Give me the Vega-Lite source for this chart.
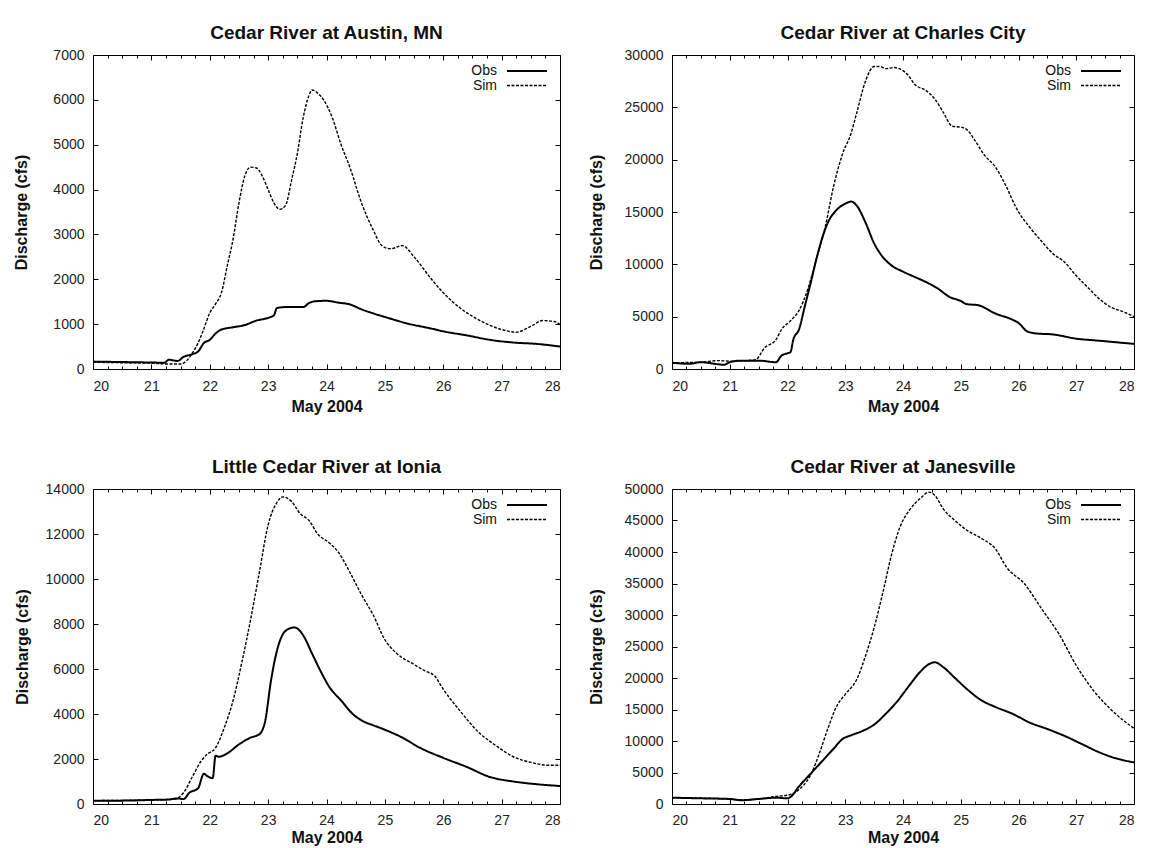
{
  "$schema": "https://vega.github.io/schema/vega-lite/v6.json",
  "padding": {"left": 13, "top": 23, "right": 0, "bottom": 0},
  "background": "white",
  "datasets": {
    "austin": [
      {"d":20.0,"s":"Obs","q":165},{"d":20.5,"s":"Obs","q":155},{"d":21.0,"s":"Obs","q":145},{"d":21.22,"s":"Obs","q":140},{"d":21.3,"s":"Obs","q":205},{"d":21.45,"s":"Obs","q":180},{"d":21.55,"s":"Obs","q":270},{"d":21.7,"s":"Obs","q":330},{"d":21.8,"s":"Obs","q":390},{"d":21.9,"s":"Obs","q":580},{"d":22.0,"s":"Obs","q":650},{"d":22.1,"s":"Obs","q":790},{"d":22.2,"s":"Obs","q":880},{"d":22.4,"s":"Obs","q":930},{"d":22.6,"s":"Obs","q":980},{"d":22.8,"s":"Obs","q":1080},{"d":23.0,"s":"Obs","q":1140},{"d":23.1,"s":"Obs","q":1200},{"d":23.15,"s":"Obs","q":1360},{"d":23.3,"s":"Obs","q":1380},{"d":23.6,"s":"Obs","q":1380},{"d":23.7,"s":"Obs","q":1470},{"d":23.8,"s":"Obs","q":1510},{"d":24.0,"s":"Obs","q":1520},{"d":24.2,"s":"Obs","q":1480},{"d":24.4,"s":"Obs","q":1440},{"d":24.6,"s":"Obs","q":1330},{"d":24.8,"s":"Obs","q":1240},{"d":25.0,"s":"Obs","q":1160},{"d":25.4,"s":"Obs","q":1010},{"d":25.8,"s":"Obs","q":900},{"d":26.0,"s":"Obs","q":840},{"d":26.4,"s":"Obs","q":750},{"d":26.8,"s":"Obs","q":650},{"d":27.2,"s":"Obs","q":590},{"d":27.6,"s":"Obs","q":560},{"d":28.0,"s":"Obs","q":500},
      {"d":20.0,"s":"Sim","q":150},{"d":20.5,"s":"Sim","q":140},{"d":21.0,"s":"Sim","q":130},{"d":21.3,"s":"Sim","q":110},{"d":21.5,"s":"Sim","q":110},{"d":21.6,"s":"Sim","q":180},{"d":21.7,"s":"Sim","q":350},{"d":21.8,"s":"Sim","q":580},{"d":21.9,"s":"Sim","q":900},{"d":22.0,"s":"Sim","q":1250},{"d":22.1,"s":"Sim","q":1450},{"d":22.2,"s":"Sim","q":1700},{"d":22.3,"s":"Sim","q":2300},{"d":22.4,"s":"Sim","q":2900},{"d":22.5,"s":"Sim","q":3700},{"d":22.6,"s":"Sim","q":4300},{"d":22.7,"s":"Sim","q":4500},{"d":22.8,"s":"Sim","q":4480},{"d":22.9,"s":"Sim","q":4300},{"d":23.0,"s":"Sim","q":4000},{"d":23.1,"s":"Sim","q":3700},{"d":23.2,"s":"Sim","q":3560},{"d":23.3,"s":"Sim","q":3650},{"d":23.4,"s":"Sim","q":4200},{"d":23.5,"s":"Sim","q":4800},{"d":23.6,"s":"Sim","q":5600},{"d":23.7,"s":"Sim","q":6100},{"d":23.75,"s":"Sim","q":6220},{"d":23.85,"s":"Sim","q":6150},{"d":23.95,"s":"Sim","q":6000},{"d":24.1,"s":"Sim","q":5600},{"d":24.25,"s":"Sim","q":5000},{"d":24.4,"s":"Sim","q":4500},{"d":24.6,"s":"Sim","q":3700},{"d":24.8,"s":"Sim","q":3100},{"d":24.95,"s":"Sim","q":2750},{"d":25.1,"s":"Sim","q":2680},{"d":25.3,"s":"Sim","q":2750},{"d":25.5,"s":"Sim","q":2500},{"d":25.8,"s":"Sim","q":2000},{"d":26.0,"s":"Sim","q":1700},{"d":26.3,"s":"Sim","q":1350},{"d":26.6,"s":"Sim","q":1100},{"d":27.0,"s":"Sim","q":880},{"d":27.25,"s":"Sim","q":820},{"d":27.5,"s":"Sim","q":950},{"d":27.7,"s":"Sim","q":1080},{"d":27.9,"s":"Sim","q":1060},{"d":28.0,"s":"Sim","q":990}
    ],
    "charles": [
      {"d":20.0,"s":"Obs","q":600},{"d":20.3,"s":"Obs","q":500},{"d":20.5,"s":"Obs","q":650},{"d":20.8,"s":"Obs","q":450},{"d":20.9,"s":"Obs","q":400},{"d":21.0,"s":"Obs","q":650},{"d":21.2,"s":"Obs","q":800},{"d":21.5,"s":"Obs","q":800},{"d":21.8,"s":"Obs","q":650},{"d":21.9,"s":"Obs","q":1300},{"d":22.0,"s":"Obs","q":1500},{"d":22.05,"s":"Obs","q":1600},{"d":22.1,"s":"Obs","q":2800},{"d":22.2,"s":"Obs","q":3800},{"d":22.3,"s":"Obs","q":6000},{"d":22.4,"s":"Obs","q":8200},{"d":22.5,"s":"Obs","q":10500},{"d":22.6,"s":"Obs","q":12500},{"d":22.7,"s":"Obs","q":14000},{"d":22.85,"s":"Obs","q":15200},{"d":23.0,"s":"Obs","q":15800},{"d":23.1,"s":"Obs","q":16000},{"d":23.2,"s":"Obs","q":15600},{"d":23.35,"s":"Obs","q":14000},{"d":23.5,"s":"Obs","q":12000},{"d":23.65,"s":"Obs","q":10700},{"d":23.8,"s":"Obs","q":9900},{"d":24.0,"s":"Obs","q":9300},{"d":24.2,"s":"Obs","q":8800},{"d":24.4,"s":"Obs","q":8300},{"d":24.6,"s":"Obs","q":7700},{"d":24.8,"s":"Obs","q":6900},{"d":25.0,"s":"Obs","q":6500},{"d":25.1,"s":"Obs","q":6200},{"d":25.3,"s":"Obs","q":6100},{"d":25.6,"s":"Obs","q":5300},{"d":25.9,"s":"Obs","q":4700},{"d":26.0,"s":"Obs","q":4400},{"d":26.15,"s":"Obs","q":3600},{"d":26.3,"s":"Obs","q":3400},{"d":26.6,"s":"Obs","q":3300},{"d":27.0,"s":"Obs","q":2900},{"d":27.4,"s":"Obs","q":2700},{"d":27.8,"s":"Obs","q":2500},{"d":28.0,"s":"Obs","q":2400},
      {"d":20.0,"s":"Sim","q":600},{"d":20.5,"s":"Sim","q":650},{"d":20.8,"s":"Sim","q":800},{"d":21.0,"s":"Sim","q":750},{"d":21.3,"s":"Sim","q":800},{"d":21.45,"s":"Sim","q":900},{"d":21.6,"s":"Sim","q":2000},{"d":21.8,"s":"Sim","q":2800},{"d":21.9,"s":"Sim","q":3800},{"d":22.05,"s":"Sim","q":4600},{"d":22.2,"s":"Sim","q":5600},{"d":22.35,"s":"Sim","q":7600},{"d":22.5,"s":"Sim","q":10500},{"d":22.65,"s":"Sim","q":13500},{"d":22.8,"s":"Sim","q":17500},{"d":22.95,"s":"Sim","q":20500},{"d":23.1,"s":"Sim","q":22500},{"d":23.2,"s":"Sim","q":24500},{"d":23.35,"s":"Sim","q":27500},{"d":23.5,"s":"Sim","q":28900},{"d":23.6,"s":"Sim","q":28900},{"d":23.7,"s":"Sim","q":28700},{"d":23.85,"s":"Sim","q":28800},{"d":24.0,"s":"Sim","q":28500},{"d":24.1,"s":"Sim","q":28000},{"d":24.2,"s":"Sim","q":27200},{"d":24.4,"s":"Sim","q":26600},{"d":24.55,"s":"Sim","q":25800},{"d":24.7,"s":"Sim","q":24500},{"d":24.85,"s":"Sim","q":23200},{"d":25.0,"s":"Sim","q":23100},{"d":25.1,"s":"Sim","q":22900},{"d":25.25,"s":"Sim","q":21800},{"d":25.4,"s":"Sim","q":20500},{"d":25.6,"s":"Sim","q":19300},{"d":25.8,"s":"Sim","q":17300},{"d":25.95,"s":"Sim","q":15500},{"d":26.2,"s":"Sim","q":13500},{"d":26.4,"s":"Sim","q":12200},{"d":26.6,"s":"Sim","q":11000},{"d":26.8,"s":"Sim","q":10200},{"d":27.0,"s":"Sim","q":8900},{"d":27.2,"s":"Sim","q":7800},{"d":27.4,"s":"Sim","q":6700},{"d":27.6,"s":"Sim","q":5900},{"d":27.8,"s":"Sim","q":5500},{"d":28.0,"s":"Sim","q":5000}
    ],
    "ionia": [
      {"d":20.0,"s":"Obs","q":150},{"d":20.5,"s":"Obs","q":150},{"d":21.0,"s":"Obs","q":180},{"d":21.3,"s":"Obs","q":200},{"d":21.45,"s":"Obs","q":250},{"d":21.55,"s":"Obs","q":220},{"d":21.65,"s":"Obs","q":500},{"d":21.8,"s":"Obs","q":700},{"d":21.9,"s":"Obs","q":1350},{"d":21.95,"s":"Obs","q":1250},{"d":22.05,"s":"Obs","q":1150},{"d":22.1,"s":"Obs","q":2150},{"d":22.15,"s":"Obs","q":2100},{"d":22.3,"s":"Obs","q":2250},{"d":22.5,"s":"Obs","q":2650},{"d":22.7,"s":"Obs","q":2950},{"d":22.85,"s":"Obs","q":3100},{"d":22.95,"s":"Obs","q":3700},{"d":23.05,"s":"Obs","q":5500},{"d":23.15,"s":"Obs","q":6800},{"d":23.3,"s":"Obs","q":7700},{"d":23.45,"s":"Obs","q":7850},{"d":23.6,"s":"Obs","q":7500},{"d":23.75,"s":"Obs","q":6700},{"d":23.9,"s":"Obs","q":5900},{"d":24.05,"s":"Obs","q":5200},{"d":24.25,"s":"Obs","q":4600},{"d":24.45,"s":"Obs","q":4000},{"d":24.65,"s":"Obs","q":3650},{"d":24.8,"s":"Obs","q":3500},{"d":25.0,"s":"Obs","q":3300},{"d":25.3,"s":"Obs","q":2950},{"d":25.6,"s":"Obs","q":2500},{"d":26.0,"s":"Obs","q":2050},{"d":26.4,"s":"Obs","q":1650},{"d":26.8,"s":"Obs","q":1200},{"d":27.2,"s":"Obs","q":1000},{"d":27.6,"s":"Obs","q":880},{"d":28.0,"s":"Obs","q":800},
      {"d":20.0,"s":"Sim","q":150},{"d":21.0,"s":"Sim","q":180},{"d":21.4,"s":"Sim","q":220},{"d":21.55,"s":"Sim","q":500},{"d":21.7,"s":"Sim","q":1200},{"d":21.85,"s":"Sim","q":1900},{"d":21.95,"s":"Sim","q":2200},{"d":22.1,"s":"Sim","q":2500},{"d":22.25,"s":"Sim","q":3400},{"d":22.4,"s":"Sim","q":4600},{"d":22.55,"s":"Sim","q":6300},{"d":22.7,"s":"Sim","q":8200},{"d":22.85,"s":"Sim","q":10300},{"d":23.0,"s":"Sim","q":12400},{"d":23.15,"s":"Sim","q":13400},{"d":23.25,"s":"Sim","q":13650},{"d":23.4,"s":"Sim","q":13450},{"d":23.55,"s":"Sim","q":12900},{"d":23.7,"s":"Sim","q":12600},{"d":23.85,"s":"Sim","q":12000},{"d":24.05,"s":"Sim","q":11600},{"d":24.2,"s":"Sim","q":11200},{"d":24.4,"s":"Sim","q":10300},{"d":24.6,"s":"Sim","q":9300},{"d":24.8,"s":"Sim","q":8400},{"d":25.0,"s":"Sim","q":7300},{"d":25.2,"s":"Sim","q":6700},{"d":25.5,"s":"Sim","q":6200},{"d":25.7,"s":"Sim","q":5900},{"d":25.85,"s":"Sim","q":5700},{"d":26.0,"s":"Sim","q":5100},{"d":26.3,"s":"Sim","q":4100},{"d":26.6,"s":"Sim","q":3200},{"d":26.9,"s":"Sim","q":2600},{"d":27.2,"s":"Sim","q":2100},{"d":27.5,"s":"Sim","q":1850},{"d":27.8,"s":"Sim","q":1720},{"d":28.0,"s":"Sim","q":1720}
    ],
    "janesville": [
      {"d":20.0,"s":"Obs","q":1000},{"d":20.5,"s":"Obs","q":900},{"d":21.0,"s":"Obs","q":800},{"d":21.2,"s":"Obs","q":600},{"d":21.5,"s":"Obs","q":800},{"d":21.8,"s":"Obs","q":1000},{"d":22.0,"s":"Obs","q":900},{"d":22.05,"s":"Obs","q":1100},{"d":22.2,"s":"Obs","q":2800},{"d":22.4,"s":"Obs","q":4800},{"d":22.6,"s":"Obs","q":6800},{"d":22.8,"s":"Obs","q":8800},{"d":22.95,"s":"Obs","q":10300},{"d":23.1,"s":"Obs","q":10900},{"d":23.3,"s":"Obs","q":11600},{"d":23.5,"s":"Obs","q":12600},{"d":23.7,"s":"Obs","q":14300},{"d":23.9,"s":"Obs","q":16300},{"d":24.1,"s":"Obs","q":18700},{"d":24.3,"s":"Obs","q":21000},{"d":24.45,"s":"Obs","q":22200},{"d":24.55,"s":"Obs","q":22500},{"d":24.7,"s":"Obs","q":21700},{"d":24.9,"s":"Obs","q":20000},{"d":25.1,"s":"Obs","q":18300},{"d":25.35,"s":"Obs","q":16500},{"d":25.6,"s":"Obs","q":15400},{"d":25.9,"s":"Obs","q":14300},{"d":26.2,"s":"Obs","q":12900},{"d":26.5,"s":"Obs","q":11900},{"d":26.8,"s":"Obs","q":10800},{"d":27.1,"s":"Obs","q":9500},{"d":27.4,"s":"Obs","q":8200},{"d":27.6,"s":"Obs","q":7500},{"d":28.0,"s":"Obs","q":6600},
      {"d":20.0,"s":"Sim","q":1000},{"d":21.0,"s":"Sim","q":800},{"d":21.2,"s":"Sim","q":650},{"d":21.5,"s":"Sim","q":800},{"d":21.8,"s":"Sim","q":1200},{"d":22.05,"s":"Sim","q":1500},{"d":22.2,"s":"Sim","q":2300},{"d":22.4,"s":"Sim","q":4600},{"d":22.55,"s":"Sim","q":8000},{"d":22.7,"s":"Sim","q":12000},{"d":22.85,"s":"Sim","q":15500},{"d":23.0,"s":"Sim","q":17400},{"d":23.2,"s":"Sim","q":19800},{"d":23.35,"s":"Sim","q":23500},{"d":23.5,"s":"Sim","q":28000},{"d":23.65,"s":"Sim","q":33500},{"d":23.8,"s":"Sim","q":39500},{"d":23.95,"s":"Sim","q":44000},{"d":24.1,"s":"Sim","q":46500},{"d":24.3,"s":"Sim","q":48500},{"d":24.45,"s":"Sim","q":49500},{"d":24.55,"s":"Sim","q":49000},{"d":24.7,"s":"Sim","q":46800},{"d":24.9,"s":"Sim","q":45000},{"d":25.1,"s":"Sim","q":43500},{"d":25.35,"s":"Sim","q":42200},{"d":25.6,"s":"Sim","q":40500},{"d":25.8,"s":"Sim","q":37500},{"d":26.1,"s":"Sim","q":35000},{"d":26.4,"s":"Sim","q":31000},{"d":26.7,"s":"Sim","q":27000},{"d":27.0,"s":"Sim","q":22000},{"d":27.3,"s":"Sim","q":18000},{"d":27.6,"s":"Sim","q":15000},{"d":28.0,"s":"Sim","q":12000}
    ]
  },
  "concat": [
    {
      "width": 467, "height": 314,
      "title": "Cedar River at Austin, MN",
      "data": {"name": "austin"},
      "layer": [
        {"transform": [{"filter": "datum.s === 'Obs'"}], "mark": {"type": "line", "color": "black", "interpolate": "monotone"},
         "encoding": {
           "x": {"field": "d", "type": "quantitative", "scale": {"domain": [20, 28], "nice": false, "zero": false}, "axis": {"orient": "bottom", "values": [20,21,22,23,24,25,26,27,28], "format": "d", "tickSize": 5, "offset": -5, "labelPadding": 10, "title": "May 2004", "titlePadding": 5}},
           "y": {"field": "q", "type": "quantitative", "scale": {"domain": [0, 7000], "nice": false}, "axis": {"orient": "left", "values": [0,1000,2000,3000,4000,5000,6000,7000], "format": "d", "tickSize": 5, "offset": -5, "labelPadding": 9, "title": "Discharge (cfs)", "titlePadding": 23}},
           "strokeDash": {"field": "s", "type": "nominal", "scale": {"domain": ["Obs", "Sim"], "range": [[1, 0], [3, 1.5]]}, "legend": {"title": null}},
           "strokeWidth": {"field": "s", "type": "nominal", "scale": {"type": "ordinal", "domain": ["Obs", "Sim"], "range": [2, 1.4]}, "legend": {"title": null}}}},
        {"transform": [{"filter": "datum.s === 'Sim'"}], "mark": {"type": "line", "color": "black", "interpolate": "monotone"},
         "encoding": {
           "x": {"field": "d", "type": "quantitative", "scale": {"domain": [20, 28], "nice": false, "zero": false}, "axis": {"orient": "top", "values": [20,21,22,23,24,25,26,27,28], "labels": false, "tickSize": 5, "offset": -5, "title": null}},
           "y": {"field": "q", "type": "quantitative", "scale": {"domain": [0, 7000], "nice": false}, "axis": {"orient": "right", "values": [0,1000,2000,3000,4000,5000,6000,7000], "labels": false, "tickSize": 5, "offset": -5, "title": null}},
           "strokeDash": {"field": "s", "type": "nominal", "scale": {"domain": ["Obs", "Sim"], "range": [[1, 0], [3, 1.5]]}, "legend": {"title": null}},
           "strokeWidth": {"field": "s", "type": "nominal", "scale": {"type": "ordinal", "domain": ["Obs", "Sim"], "range": [2, 1.4]}, "legend": {"title": null}}}},
        {"transform": [{"filter": "datum.s === 'Obs'"}], "mark": {"type": "line", "opacity": 0},
         "encoding": {
           "x": {"field": "d", "type": "quantitative", "scale": {"domain": [20, 28], "nice": false, "zero": false}, "axis": {"orient": "bottom", "values": [20.25,20.5,20.75,21.25,21.5,21.75,22.25,22.5,22.75,23.25,23.5,23.75,24.25,24.5,24.75,25.25,25.5,25.75,26.25,26.5,26.75,27.25,27.5,27.75], "labels": false, "tickSize": 3, "offset": -3, "title": null}},
           "y": {"field": "q", "type": "quantitative", "scale": {"domain": [0, 7000], "nice": false}, "axis": null}}},
        {"transform": [{"filter": "datum.s === 'Sim'"}], "mark": {"type": "line", "opacity": 0},
         "encoding": {
           "x": {"field": "d", "type": "quantitative", "scale": {"domain": [20, 28], "nice": false, "zero": false}, "axis": {"orient": "top", "values": [20.25,20.5,20.75,21.25,21.5,21.75,22.25,22.5,22.75,23.25,23.5,23.75,24.25,24.5,24.75,25.25,25.5,25.75,26.25,26.5,26.75,27.25,27.5,27.75], "labels": false, "tickSize": 3, "offset": -3, "title": null}},
           "y": {"field": "q", "type": "quantitative", "scale": {"domain": [0, 7000], "nice": false}, "axis": null}}}
      ],
      "resolve": {"axis": {"x": "independent", "y": "independent"}}
    },
    {
      "width": 462, "height": 314,
      "title": "Cedar River at Charles City",
      "data": {"name": "charles"},
      "layer": [
        {"transform": [{"filter": "datum.s === 'Obs'"}], "mark": {"type": "line", "color": "black", "interpolate": "monotone"},
         "encoding": {
           "x": {"field": "d", "type": "quantitative", "scale": {"domain": [20, 28], "nice": false, "zero": false}, "axis": {"orient": "bottom", "values": [20,21,22,23,24,25,26,27,28], "format": "d", "tickSize": 5, "offset": -5, "labelPadding": 10, "title": "May 2004", "titlePadding": 5}},
           "y": {"field": "q", "type": "quantitative", "scale": {"domain": [0, 30000], "nice": false}, "axis": {"orient": "left", "values": [0,5000,10000,15000,20000,25000,30000], "format": "d", "tickSize": 5, "offset": -5, "labelPadding": 9, "title": "Discharge (cfs)", "titlePadding": 20}},
           "strokeDash": {"field": "s", "type": "nominal", "scale": {"domain": ["Obs", "Sim"], "range": [[1, 0], [3, 1.5]]}, "legend": {"title": null}},
           "strokeWidth": {"field": "s", "type": "nominal", "scale": {"type": "ordinal", "domain": ["Obs", "Sim"], "range": [2, 1.4]}, "legend": {"title": null}}}},
        {"transform": [{"filter": "datum.s === 'Sim'"}], "mark": {"type": "line", "color": "black", "interpolate": "monotone"},
         "encoding": {
           "x": {"field": "d", "type": "quantitative", "scale": {"domain": [20, 28], "nice": false, "zero": false}, "axis": {"orient": "top", "values": [20,21,22,23,24,25,26,27,28], "labels": false, "tickSize": 5, "offset": -5, "title": null}},
           "y": {"field": "q", "type": "quantitative", "scale": {"domain": [0, 30000], "nice": false}, "axis": {"orient": "right", "values": [0,5000,10000,15000,20000,25000,30000], "labels": false, "tickSize": 5, "offset": -5, "title": null}},
           "strokeDash": {"field": "s", "type": "nominal", "scale": {"domain": ["Obs", "Sim"], "range": [[1, 0], [3, 1.5]]}, "legend": {"title": null}},
           "strokeWidth": {"field": "s", "type": "nominal", "scale": {"type": "ordinal", "domain": ["Obs", "Sim"], "range": [2, 1.4]}, "legend": {"title": null}}}},
        {"transform": [{"filter": "datum.s === 'Obs'"}], "mark": {"type": "line", "opacity": 0},
         "encoding": {
           "x": {"field": "d", "type": "quantitative", "scale": {"domain": [20, 28], "nice": false, "zero": false}, "axis": {"orient": "bottom", "values": [20.25,20.5,20.75,21.25,21.5,21.75,22.25,22.5,22.75,23.25,23.5,23.75,24.25,24.5,24.75,25.25,25.5,25.75,26.25,26.5,26.75,27.25,27.5,27.75], "labels": false, "tickSize": 3, "offset": -3, "title": null}},
           "y": {"field": "q", "type": "quantitative", "scale": {"domain": [0, 30000], "nice": false}, "axis": null}}},
        {"transform": [{"filter": "datum.s === 'Sim'"}], "mark": {"type": "line", "opacity": 0},
         "encoding": {
           "x": {"field": "d", "type": "quantitative", "scale": {"domain": [20, 28], "nice": false, "zero": false}, "axis": {"orient": "top", "values": [20.25,20.5,20.75,21.25,21.5,21.75,22.25,22.5,22.75,23.25,23.5,23.75,24.25,24.5,24.75,25.25,25.5,25.75,26.25,26.5,26.75,27.25,27.5,27.75], "labels": false, "tickSize": 3, "offset": -3, "title": null}},
           "y": {"field": "q", "type": "quantitative", "scale": {"domain": [0, 30000], "nice": false}, "axis": null}}}
      ],
      "resolve": {"axis": {"x": "independent", "y": "independent"}}
    },
    {
      "width": 467, "height": 315,
      "title": "Little Cedar River at Ionia",
      "data": {"name": "ionia"},
      "layer": [
        {"transform": [{"filter": "datum.s === 'Obs'"}], "mark": {"type": "line", "color": "black", "interpolate": "monotone"},
         "encoding": {
           "x": {"field": "d", "type": "quantitative", "scale": {"domain": [20, 28], "nice": false, "zero": false}, "axis": {"orient": "bottom", "values": [20,21,22,23,24,25,26,27,28], "format": "d", "tickSize": 5, "offset": -5, "labelPadding": 9, "title": "May 2004", "titlePadding": 2}},
           "y": {"field": "q", "type": "quantitative", "scale": {"domain": [0, 14000], "nice": false}, "axis": {"orient": "left", "values": [0,2000,4000,6000,8000,10000,12000,14000], "format": "d", "tickSize": 5, "offset": -5, "labelPadding": 9, "title": "Discharge (cfs)", "titlePadding": 15}},
           "strokeDash": {"field": "s", "type": "nominal", "scale": {"domain": ["Obs", "Sim"], "range": [[1, 0], [3, 1.5]]}, "legend": {"title": null}},
           "strokeWidth": {"field": "s", "type": "nominal", "scale": {"type": "ordinal", "domain": ["Obs", "Sim"], "range": [2, 1.4]}, "legend": {"title": null}}}},
        {"transform": [{"filter": "datum.s === 'Sim'"}], "mark": {"type": "line", "color": "black", "interpolate": "monotone"},
         "encoding": {
           "x": {"field": "d", "type": "quantitative", "scale": {"domain": [20, 28], "nice": false, "zero": false}, "axis": {"orient": "top", "values": [20,21,22,23,24,25,26,27,28], "labels": false, "tickSize": 5, "offset": -5, "title": null}},
           "y": {"field": "q", "type": "quantitative", "scale": {"domain": [0, 14000], "nice": false}, "axis": {"orient": "right", "values": [0,2000,4000,6000,8000,10000,12000,14000], "labels": false, "tickSize": 5, "offset": -5, "title": null}},
           "strokeDash": {"field": "s", "type": "nominal", "scale": {"domain": ["Obs", "Sim"], "range": [[1, 0], [3, 1.5]]}, "legend": {"title": null}},
           "strokeWidth": {"field": "s", "type": "nominal", "scale": {"type": "ordinal", "domain": ["Obs", "Sim"], "range": [2, 1.4]}, "legend": {"title": null}}}},
        {"transform": [{"filter": "datum.s === 'Obs'"}], "mark": {"type": "line", "opacity": 0},
         "encoding": {
           "x": {"field": "d", "type": "quantitative", "scale": {"domain": [20, 28], "nice": false, "zero": false}, "axis": {"orient": "bottom", "values": [20.25,20.5,20.75,21.25,21.5,21.75,22.25,22.5,22.75,23.25,23.5,23.75,24.25,24.5,24.75,25.25,25.5,25.75,26.25,26.5,26.75,27.25,27.5,27.75], "labels": false, "tickSize": 3, "offset": -3, "title": null}},
           "y": {"field": "q", "type": "quantitative", "scale": {"domain": [0, 14000], "nice": false}, "axis": null}}},
        {"transform": [{"filter": "datum.s === 'Sim'"}], "mark": {"type": "line", "opacity": 0},
         "encoding": {
           "x": {"field": "d", "type": "quantitative", "scale": {"domain": [20, 28], "nice": false, "zero": false}, "axis": {"orient": "top", "values": [20.25,20.5,20.75,21.25,21.5,21.75,22.25,22.5,22.75,23.25,23.5,23.75,24.25,24.5,24.75,25.25,25.5,25.75,26.25,26.5,26.75,27.25,27.5,27.75], "labels": false, "tickSize": 3, "offset": -3, "title": null}},
           "y": {"field": "q", "type": "quantitative", "scale": {"domain": [0, 14000], "nice": false}, "axis": null}}}
      ],
      "resolve": {"axis": {"x": "independent", "y": "independent"}}
    },
    {
      "width": 462, "height": 315,
      "title": "Cedar River at Janesville",
      "data": {"name": "janesville"},
      "layer": [
        {"transform": [{"filter": "datum.s === 'Obs'"}], "mark": {"type": "line", "color": "black", "interpolate": "monotone"},
         "encoding": {
           "x": {"field": "d", "type": "quantitative", "scale": {"domain": [20, 28], "nice": false, "zero": false}, "axis": {"orient": "bottom", "values": [20,21,22,23,24,25,26,27,28], "format": "d", "tickSize": 5, "offset": -5, "labelPadding": 9, "title": "May 2004", "titlePadding": 2}},
           "y": {"field": "q", "type": "quantitative", "scale": {"domain": [0, 50000], "nice": false}, "axis": {"orient": "left", "values": [0,5000,10000,15000,20000,25000,30000,35000,40000,45000,50000], "format": "d", "tickSize": 5, "offset": -5, "labelPadding": 9, "title": "Discharge (cfs)", "titlePadding": 20}},
           "strokeDash": {"field": "s", "type": "nominal", "scale": {"domain": ["Obs", "Sim"], "range": [[1, 0], [3, 1.5]]}, "legend": {"title": null}},
           "strokeWidth": {"field": "s", "type": "nominal", "scale": {"type": "ordinal", "domain": ["Obs", "Sim"], "range": [2, 1.4]}, "legend": {"title": null}}}},
        {"transform": [{"filter": "datum.s === 'Sim'"}], "mark": {"type": "line", "color": "black", "interpolate": "monotone"},
         "encoding": {
           "x": {"field": "d", "type": "quantitative", "scale": {"domain": [20, 28], "nice": false, "zero": false}, "axis": {"orient": "top", "values": [20,21,22,23,24,25,26,27,28], "labels": false, "tickSize": 5, "offset": -5, "title": null}},
           "y": {"field": "q", "type": "quantitative", "scale": {"domain": [0, 50000], "nice": false}, "axis": {"orient": "right", "values": [0,5000,10000,15000,20000,25000,30000,35000,40000,45000,50000], "labels": false, "tickSize": 5, "offset": -5, "title": null}},
           "strokeDash": {"field": "s", "type": "nominal", "scale": {"domain": ["Obs", "Sim"], "range": [[1, 0], [3, 1.5]]}, "legend": {"title": null}},
           "strokeWidth": {"field": "s", "type": "nominal", "scale": {"type": "ordinal", "domain": ["Obs", "Sim"], "range": [2, 1.4]}, "legend": {"title": null}}}},
        {"transform": [{"filter": "datum.s === 'Obs'"}], "mark": {"type": "line", "opacity": 0},
         "encoding": {
           "x": {"field": "d", "type": "quantitative", "scale": {"domain": [20, 28], "nice": false, "zero": false}, "axis": {"orient": "bottom", "values": [20.25,20.5,20.75,21.25,21.5,21.75,22.25,22.5,22.75,23.25,23.5,23.75,24.25,24.5,24.75,25.25,25.5,25.75,26.25,26.5,26.75,27.25,27.5,27.75], "labels": false, "tickSize": 3, "offset": -3, "title": null}},
           "y": {"field": "q", "type": "quantitative", "scale": {"domain": [0, 50000], "nice": false}, "axis": null}}},
        {"transform": [{"filter": "datum.s === 'Sim'"}], "mark": {"type": "line", "opacity": 0},
         "encoding": {
           "x": {"field": "d", "type": "quantitative", "scale": {"domain": [20, 28], "nice": false, "zero": false}, "axis": {"orient": "top", "values": [20.25,20.5,20.75,21.25,21.5,21.75,22.25,22.5,22.75,23.25,23.5,23.75,24.25,24.5,24.75,25.25,25.5,25.75,26.25,26.5,26.75,27.25,27.5,27.75], "labels": false, "tickSize": 3, "offset": -3, "title": null}},
           "y": {"field": "q", "type": "quantitative", "scale": {"domain": [0, 50000], "nice": false}, "axis": null}}}
      ],
      "resolve": {"axis": {"x": "independent", "y": "independent"}}
    }
  ],
  "columns": 2,
  "align": "none",
  "spacing": {"row": 42, "column": 22},
  "resolve": {"scale": {"x": "independent", "y": "independent", "strokeDash": "independent", "strokeWidth": "independent"}},
  "config": {
    "font": "Liberation Sans",
    "view": {"stroke": "black", "strokeWidth": 1},
    "axis": {"domain": false, "grid": false, "labelFont": "Liberation Sans", "labelFontSize": 14, "labelColor": "#222", "titleFont": "Liberation Sans", "titleFontSize": 16, "titleFontWeight": "bold", "titleColor": "#111", "tickColor": "black", "tickWidth": 1},
    "title": {"font": "Liberation Sans", "fontSize": 19, "fontWeight": "bold", "color": "#111", "offset": 5},
    "legend": {"orient": "top-right", "offset": 8, "labelFont": "Liberation Sans", "labelFontSize": 14, "labelColor": "#111", "symbolType": "M-3,0H3", "symbolSize": 178, "symbolStrokeColor": "black", "symbolFillColor": "transparent", "labelAlign": "right", "labelOffset": -38, "rowPadding": -3}
  }
}
